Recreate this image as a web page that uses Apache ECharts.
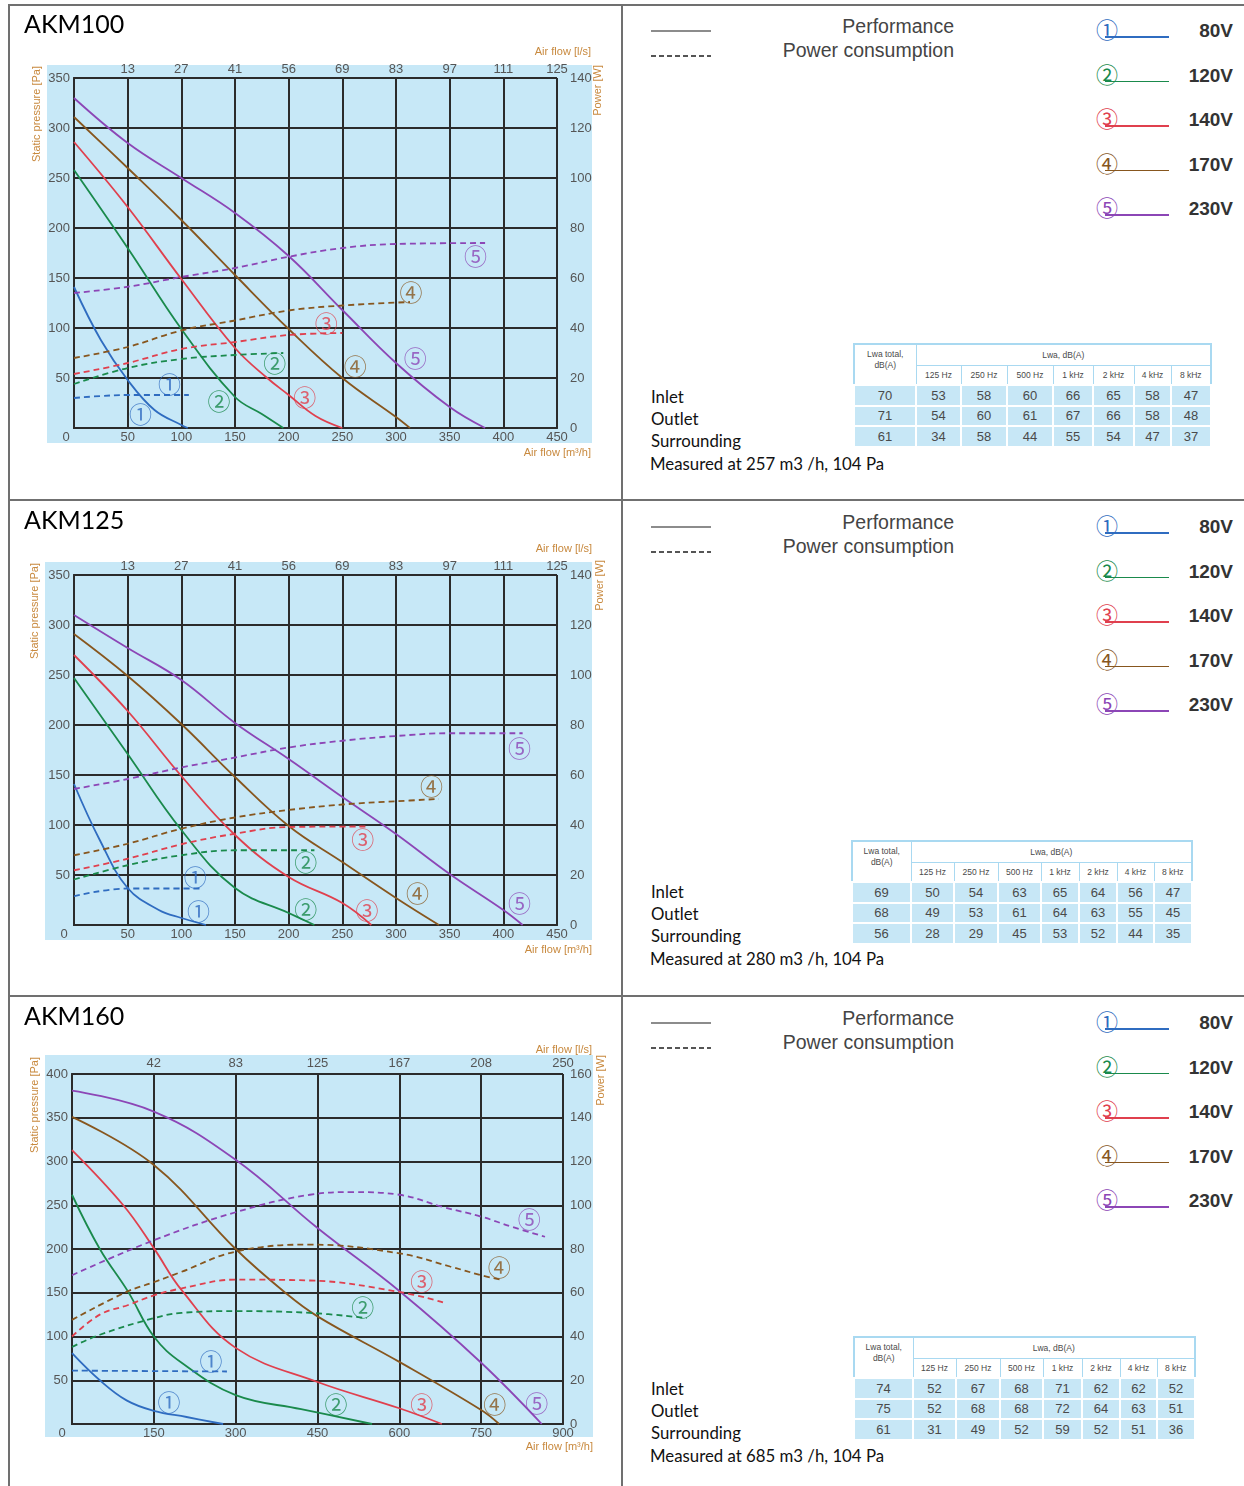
<!DOCTYPE html>
<html><head><meta charset="utf-8">
<script src="https://cdn.jsdelivr.net/npm/echarts@6/dist/echarts.min.js"></script>
<style>
html,body{margin:0;padding:0;background:#fff}
body{width:1244px;height:1486px;position:relative;overflow:hidden;font-family:'Liberation Sans',Arial,sans-serif}
.chart{position:absolute;left:0;width:622px;height:496px}
.abs{position:absolute;white-space:nowrap}
table.snd{position:absolute;border-collapse:collapse;table-layout:fixed;font-family:'Liberation Sans',Arial,sans-serif;color:#4a4a4a;border:2px solid #a9d9f1}
table.snd th{background:#fff;font-weight:normal;font-size:8.5px;border:1.5px solid #a9d9f1;padding:0;text-align:center}
table.snd td{background:#c7e7f6;font-size:13px;border:2px solid #fff;padding:0;text-align:center}
</style>
</head><body>
<div id="c100" class="chart" style="top:0"></div>
<div id="c125" class="chart" style="top:496px"></div>
<div id="c160" class="chart" style="top:992px;height:494px"></div>
<script>
// ---------- common ----------
const COLORS = ['#2f6cc0', '#1a8a4c', '#e0404e', '#87561e', '#8c46b6'];
const CIRCLED = ['①', '②', '③', '④', '⑤'];
const voltages = ['80V', '120V', '140V', '170V', '230V'];
const bands = ['125 Hz', '250 Hz', '500 Hz', '1 kHz', '2 kHz', '4 kHz', '8 kHz'];
const rowNames = ['Inlet', 'Outlet', 'Surrounding'];

// ---------- AKM100 ----------
const akm100_ls = ['13', '27', '41', '56', '69', '83', '97', '111', '125'];
const akm100_perf1 = [[0,141],[25,88],[50,48],[75,18],[100,3],[106,0]];
const akm100_perf2 = [[0,258],[50,180],[100,99],[150,31],[175,14],[195,0]];
const akm100_perf3 = [[0,286],[50,221],[100,149],[150,80],[180,50],[200,33],[225,12],[250,0]];
const akm100_perf4 = [[0,311],[50,260],[100,208],[150,153],[200,99],[250,50],[300,11],[313,0]];
const akm100_perf5 = [[0,330],[50,285],[100,250],[150,215],[200,172],[250,118],[300,65],[350,21],[383,0]];
const akm100_pow1 = [[0,12],[25,12.8],[50,13.2],[107,13.2]];
const akm100_pow2 = [[0,17.6],[50,24],[100,27.6],[150,29.2],[195,30]];
const akm100_pow3 = [[0,21.6],[50,26],[100,31.6],[150,34.4],[200,37.2],[250,38]];
const akm100_pow4 = [[0,28],[50,32.4],[100,39],[150,43],[200,47],[250,49],[313,50.4]];
const akm100_pow5 = [[0,54],[50,56.5],[100,60.4],[150,64],[200,68.5],[250,72],[300,73.6],[383,74]];
const akm100_marks = [[89,44,1],[62,14,1],[187,65,2],[135,27,2],[235,105,3],[215,31,3],[314,136,4],[262,62,4],[374,172,5],[318,70,5]];
const akm100_sound = [[70,53,58,60,66,65,58,47],[71,54,60,61,67,66,58,48],[61,34,58,44,55,54,47,37]];
const akm100_measured = 'Measured at 257 m3 /h, 104 Pa';

// ---------- AKM125 ----------
const akm125_ls = ['13', '27', '41', '56', '69', '83', '97', '111', '125'];
const akm125_perf1 = [[0,141],[24,85],[50,37],[79,15],[100,7],[123,0]];
const akm125_perf2 = [[0,247],[50,171],[100,95],[150,37],[200,12],[224,0]];
const akm125_perf3 = [[0,270],[50,214],[100,149],[150,90],[200,48],[250,22],[277,0]];
const akm125_perf4 = [[0,291],[50,249],[100,201],[150,148],[200,99],[250,63],[300,27],[340,0]];
const akm125_perf5 = [[0,310],[50,277],[100,245],[150,202],[200,166],[250,128],[300,91],[350,51],[400,15],[418,0]];
const akm125_pow1 = [[0,11.5],[50,14.6],[117,14.6]];
const akm125_pow2 = [[0,18.2],[50,23.9],[100,27.9],[150,29.9],[224,29.9]];
const akm125_pow3 = [[0,21.9],[50,26.5],[100,32.3],[150,36.5],[200,39.2],[273,39.4]];
const akm125_pow4 = [[0,27.9],[50,32.5],[100,38.5],[150,43],[200,46],[250,48.2],[300,49.5],[340,50.4]];
const akm125_pow5 = [[0,54.4],[50,58.4],[100,63],[150,67],[200,71],[250,73.7],[300,75.6],[350,76.7],[418,76.7]];
const akm125_marks = [[113,48,1],[116,14,1],[216,63,2],[216,16,2],[269,86,3],[273,15,3],[333,139,4],[320,32,4],[415,177,5],[415,22,5]];
const akm125_sound = [[69,50,54,63,65,64,56,47],[68,49,53,61,64,63,55,45],[56,28,29,45,53,52,44,35]];
const akm125_measured = 'Measured at 280 m3 /h, 104 Pa';

// ---------- AKM160 ----------
const akm160_ls = ['42', '83', '125', '167', '208', '250'];
const akm160_perf1 = [[0,81],[51,50],[100,27],[150,15],[210,8],[277,0]];
const akm160_perf2 = [[0,262],[51,200],[103,151],[150,100],[201,70],[300,33],[420,17],[550,0]];
const akm160_perf3 = [[0,313],[94,250],[150,201],[201,153],[300,87],[450,48],[600,18],[678,0]];
const akm160_perf4 = [[0,351],[150,296],[300,200],[391,150],[450,123],[600,71],[750,16],[783,0]];
const akm160_perf5 = [[0,381],[150,357],[300,302],[450,224],[600,152],[750,70],[861,0]];
const akm160_pow1 = [[0,24.4],[284,24]];
const akm160_pow2 = [[0,35.2],[51,40.8],[150,48.4],[201,50.8],[300,51.6],[436,50.8],[540,48.4]];
const akm160_pow3 = [[0,40],[51,50],[103,54.4],[150,58.8],[201,62],[300,66],[436,65.6],[600,60.4],[680,55.6]];
const akm160_pow4 = [[0,47.6],[100,60.4],[150,64.8],[201,69.6],[300,78.8],[436,82],[600,78],[693,72],[750,68],[785,66]];
const akm160_pow5 = [[0,68],[150,84],[300,96.8],[436,104.8],[515,106],[600,104.8],[680,99.2],[750,94.8],[808,90],[867,85.6]];
const akm160_marks = [[255,72,1],[178,25,1],[533,133,2],[484,22,2],[641,163,3],[641,23,3],[783,179,4],[775,22,4],[838,234,5],[852,24,5]];
const akm160_sound = [[74,52,67,68,71,62,62,52],[75,52,68,68,72,64,63,51],[61,31,49,52,59,52,51,36]];
const akm160_measured = 'Measured at 685 m3 /h, 104 Pa';

const DARK = '#2b2b2b';
const LBL = '#555';
const NAMEC = '#c8893e';

function buildOption(cfg) {
  const series = [];
  cfg.perf.forEach((d, i) => series.push({
    type: 'line', data: d, xAxisIndex: 0, yAxisIndex: 0, smooth: 0.4,
    showSymbol: false, silent: true, z: 3, lineStyle: { color: COLORS[i], width: 1.8 }
  }));
  cfg.power.forEach((d, i) => series.push({
    type: 'line', data: d, xAxisIndex: 0, yAxisIndex: 1, smooth: 0.4,
    showSymbol: false, silent: true, z: 3, lineStyle: { color: COLORS[i], width: 1.8, type: [6, 4] }
  }));
  series.push({
    type: 'scatter', xAxisIndex: 0, yAxisIndex: 0, symbolSize: 1, silent: true, z: 5,
    itemStyle: { color: 'rgba(0,0,0,0)' },
    data: cfg.marks.map(m => ({ value: [m[0], m[1]], label: { color: COLORS[m[2] - 1], formatter: CIRCLED[m[2] - 1] } })),
    label: { show: true, position: 'inside', fontSize: 23, fontFamily: 'Noto Sans CJK SC' }
  });
  const lineS = { color: DARK, width: 2 };
  const nameText = (x, y, text, rot, align) => ({
    type: 'text', x: x, y: y, rotation: rot, z: 10,
    style: { text: text, fill: NAMEC, fontSize: 11, fontFamily: 'Liberation Sans', align: align, verticalAlign: 'middle' }
  });
  return {
    animation: false,
    textStyle: { fontFamily: 'Liberation Sans' },
    graphic: [
      { type: 'rect', z: -10, shape: { x: cfg.bg[0], y: cfg.bg[1], width: cfg.bg[2], height: cfg.bg[3] }, style: { fill: '#c7e8f7' } },
      nameText(cfg.names.sp[0], cfg.names.sp[1], 'Static pressure [Pa]', Math.PI / 2, 'right'),
      nameText(cfg.names.pw[0], cfg.names.pw[1], 'Power [W]', Math.PI / 2, 'right'),
      nameText(cfg.names.ls[0], cfg.names.ls[1], 'Air flow [l/s]', 0, 'right'),
      nameText(cfg.names.mh[0], cfg.names.mh[1], 'Air flow [m\u00b3/h]', 0, 'right')
    ],
    grid: { left: cfg.grid[0], top: cfg.grid[1], width: cfg.grid[2], height: cfg.grid[3] },
    xAxis: [
      {
        type: 'value', position: 'bottom', min: 0, max: cfg.qMax, interval: cfg.qStep,
        axisLine: { show: true, lineStyle: lineS }, axisTick: { show: false },
        splitLine: { show: true, lineStyle: lineS },
        axisLabel: {
          color: LBL, fontSize: 13, margin: 3,
          formatter: v => v === 0 ? '{o|0}' : String(v),
          rich: { o: { padding: [0, cfg.zeroPad, 0, 0], color: LBL, fontSize: 13 } }
        }
      },
      {
        type: 'value', position: 'top', min: 0, max: cfg.qMax, interval: cfg.qStep,
        axisLine: { show: true, lineStyle: lineS }, axisTick: { show: false }, splitLine: { show: false },
        axisLabel: { color: LBL, fontSize: 13, margin: cfg.topMargin, showMinLabel: false,
          formatter: v => { const k = Math.round(v / cfg.qStep) - 1; return k >= 0 ? cfg.ls[k] : ''; } }
      }
    ],
    yAxis: [
      {
        type: 'value', min: 0, max: cfg.pMax, interval: 50,
        axisLine: { show: true, lineStyle: lineS }, axisTick: { show: false },
        splitLine: { show: true, lineStyle: lineS },
        axisLabel: { color: LBL, fontSize: 13, margin: 4, showMinLabel: false }
      },
      {
        type: 'value', position: 'right', min: 0, max: cfg.wMax, interval: 20,
        axisLine: { show: true, lineStyle: lineS },
        axisTick: { show: true, length: 6, lineStyle: { color: DARK, width: 1.5 } },
        splitLine: { show: false },
        axisLabel: { color: LBL, fontSize: 13, margin: cfg.rightMargin }
      }
    ],
    series: series
  };
}

const cfg100 = {
  grid: [74, 78, 483, 350], qMax: 450, qStep: 50, pMax: 350, wMax: 140, ls: akm100_ls, zeroPad: 16, topMargin: 2, rightMargin: 13,
  bg: [47, 65, 545, 378], names: { sp: [37, 66], pw: [598, 65], ls: [591, 52], mh: [591, 453] },
  perf: [akm100_perf1, akm100_perf2, akm100_perf3, akm100_perf4, akm100_perf5],
  power: [akm100_pow1, akm100_pow2, akm100_pow3, akm100_pow4, akm100_pow5],
  marks: akm100_marks
};
const cfg125 = {
  grid: [74, 79, 483, 350], qMax: 450, qStep: 50, pMax: 350, wMax: 140, ls: akm125_ls, zeroPad: 20, topMargin: 2, rightMargin: 13,
  bg: [45, 66, 547, 378], names: { sp: [35, 67], pw: [600, 64], ls: [592, 53], mh: [592, 454] },
  perf: [akm125_perf1, akm125_perf2, akm125_perf3, akm125_perf4, akm125_perf5],
  power: [akm125_pow1, akm125_pow2, akm125_pow3, akm125_pow4, akm125_pow5],
  marks: akm125_marks
};
const cfg160 = {
  grid: [72, 82, 491, 350], qMax: 900, qStep: 150, pMax: 400, wMax: 160, ls: akm160_ls, zeroPad: 20, topMargin: 4, rightMargin: 7,
  bg: [45, 63, 548, 382], names: { sp: [35, 65], pw: [601, 63], ls: [592, 58], mh: [593, 455] },
  perf: [akm160_perf1, akm160_perf2, akm160_perf3, akm160_perf4, akm160_perf5],
  power: [akm160_pow1, akm160_pow2, akm160_pow3, akm160_pow4, akm160_pow5],
  marks: akm160_marks
};

echarts.init(document.getElementById('c100')).setOption(buildOption(cfg100));
echarts.init(document.getElementById('c125')).setOption(buildOption(cfg125));
echarts.init(document.getElementById('c160')).setOption(buildOption(cfg160));

// ---------- right panels (HTML) ----------
function div(css, html) {
  const d = document.createElement('div');
  d.className = 'abs';
  d.style.cssText = css;
  if (html !== undefined) d.innerHTML = html;
  document.body.appendChild(d);
  return d;
}
function addTable(left, top, widths, sound) {
  const t = document.createElement('table');
  t.className = 'snd';
  const total = widths.reduce((a, b) => a + b, 0);
  t.style.left = left + 'px'; t.style.top = top + 'px'; t.style.width = total + 'px';
  let h = '<colgroup>' + widths.map(w => '<col style="width:' + w + 'px">').join('') + '</colgroup>';
  h += '<tr style="height:21px"><th rowspan="2" style="vertical-align:top;padding-top:4px;line-height:11px">Lwa total,<br>dB(A)</th><th colspan="7">Lwa, dB(A)</th></tr>';
  h += '<tr style="height:20px">' + bands.map(b => '<th>' + b + '</th>').join('') + '</tr>';
  sound.forEach(r => { h += '<tr style="height:20.5px">' + r.map(v => '<td>' + v + '</td>').join('') + '</tr>'; });
  t.innerHTML = h;
  document.body.appendChild(t);
}
function addPanel(off, title, sound, measured, tbl) {
  div('left:24px;top:' + (off + 8) + 'px;font:25px Lato;line-height:30px;color:#000', title);
  // line-style legend
  div('left:651px;top:' + (off + 30) + 'px;width:60px;height:2px;background:#8c8c8c');
  div('left:651px;top:' + (off + 55) + 'px;width:60px;height:2px;background:repeating-linear-gradient(90deg,#555 0 5px,transparent 5px 8px)');
  div('right:290px;top:' + (off + 15) + 'px;font:19.5px "Liberation Sans";line-height:22px;color:#444;text-align:right', 'Performance');
  div('right:290px;top:' + (off + 39) + 'px;font:19.5px "Liberation Sans";line-height:22px;color:#444;text-align:right', 'Power consumption');
  // voltage legend
  voltages.forEach((v, i) => {
    const y = off + 31 + 44.5 * i;
    div('left:1105px;top:' + (y + 5) + 'px;width:64px;height:1.8px;background:' + COLORS[i]);
    div('left:1095px;top:' + (y - 15) + 'px;width:24px;text-align:center;font:22px "Noto Sans CJK SC";line-height:24px;color:' + COLORS[i], CIRCLED[i]);
    div('right:11px;top:' + (y - 11) + 'px;font:bold 19px "Liberation Sans";line-height:22px;color:#333;text-align:right', v);
  });
  addTable(tbl.left, off + tbl.top, tbl.widths, sound);
  rowNames.forEach((n, i) => {
    div('left:651px;top:' + (off + tbl.textTop + 22 * i) + 'px;font:16.8px Lato;line-height:20px;color:#111', n);
  });
  div('left:650px;top:' + (off + tbl.textTop + 67) + 'px;font:16.8px Lato;line-height:20px;color:#111', measured);
}
addPanel(0, 'AKM100', akm100_sound, akm100_measured, { left: 853, top: 343, widths: [62, 45, 46, 46, 40, 41, 37, 40], textTop: 387 });
addPanel(496, 'AKM125', akm125_sound, akm125_measured, { left: 851, top: 344, widths: [59, 43, 44, 43, 38, 38, 37, 38], textTop: 386 });
addPanel(992, 'AKM160', akm160_sound, akm160_measured, { left: 853, top: 344, widths: [59, 43, 44, 43, 39, 38, 37, 38], textTop: 387 });

// ---------- frame lines ----------
div('left:8px;top:4px;width:1236px;height:1.5px;background:#707070');
div('left:8px;top:4px;width:1.5px;height:1482px;background:#707070');
div('left:621px;top:4px;width:1.5px;height:1482px;background:#707070');
div('left:8px;top:499px;width:1236px;height:1.5px;background:#707070');
div('left:8px;top:995px;width:1236px;height:1.5px;background:#707070');
</script>
</body></html>
